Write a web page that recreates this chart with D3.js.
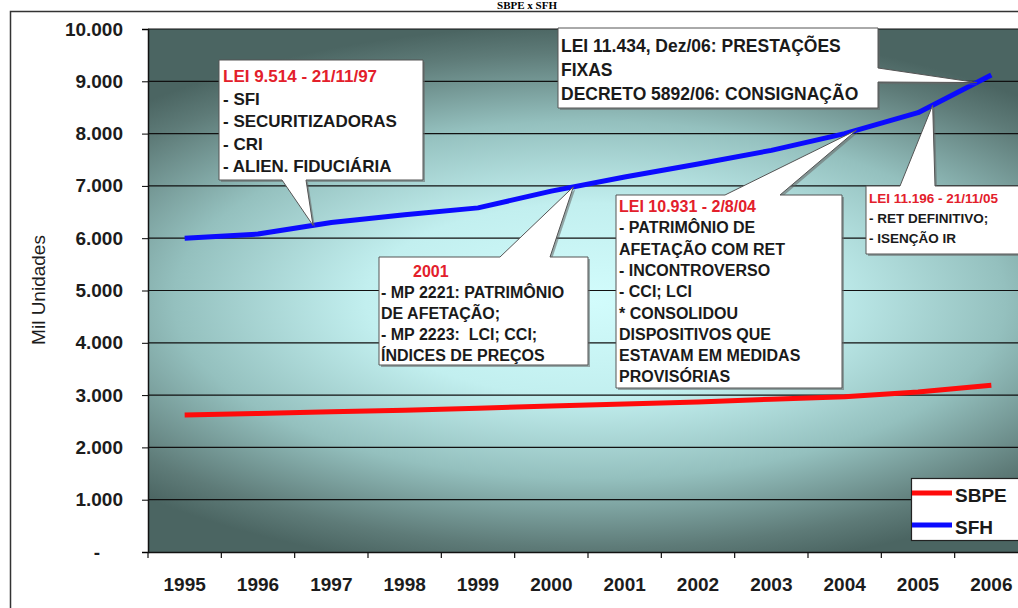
<!DOCTYPE html>
<meta charset="utf-8">
<style>
body { margin: 0; background: #fff; }
svg { display: block; font-family: Arial, "Liberation Sans", sans-serif; }
.tick text { font-weight: bold; fill: #1c1c1c; font-size: 19px; }
.note text { font-weight: bold; white-space: pre; }
</style>
<body>
<script src="https://d3js.org/d3.v7.min.js"></script>
<script>

// chart data
var years = ["1995", "1996", "1997", "1998", "1999", "2000", "2001", "2002", "2003", "2004", "2005", "2006"];
var sbpe = [2620, 2650, 2680, 2710, 2750, 2790, 2830, 2870, 2920, 2970, 3060, 3190];
var sfh = [6000, 6080, 6300, 6450, 6580, 6900, 7170, 7420, 7680, 8000, 8400, 9120];
var yTicks = [0, 1000, 2000, 3000, 4000, 5000, 6000, 7000, 8000, 9000, 10000];
var seriesNames = ["SBPE", "SFH"];
var seriesColors = ["#ff0b0b", "#0b0bff"];

// callouts, "at" = position along the year axis (index, may be fractional) on the SFH line
var notes = [
  { box: [219, 60, 204, 120], side: "bottom", base: [282, 306], at: 1.75, fs: 17, lh: 22.5, tx: 223, ty: 82,
    lines: [["LEI 9.514 - 21/11/97", "red"], ["- SFI"], ["- SECURITIZADORAS"], ["- CRI"], ["- ALIEN. FIDUCIÁRIA"]] },
  { box: [379, 257, 209, 108], side: "top", base: [500, 550], at: 5.3, fs: 16, lh: 21, tx: 381, ty: 277,
    lines: [["2001", "red", 32], ["- MP 2221: PATRIMÔNIO"], ["DE AFETAÇÃO;"], ["- MP 2223:  LCI; CCI;"], ["ÍNDICES DE PREÇOS"]] },
  { box: [558, 28, 320, 80], side: "right", base: [68, 82], at: 10.8, fs: 17.5, lh: 24, tx: 561, ty: 52,
    lines: [["LEI 11.434, Dez/06: PRESTAÇÕES"], ["FIXAS"], ["DECRETO 5892/06: CONSIGNAÇÃO"]] },
  { box: [616, 195, 226, 193], side: "top", base: [725, 780], at: 9.16, fs: 16, lh: 21.3, tx: 619, ty: 212,
    lines: [["LEI 10.931 - 2/8/04", "red"], ["- PATRIMÔNIO DE"], ["AFETAÇÃO COM RET"], ["- INCONTROVERSO"], ["- CCI; LCI"],
            ["* CONSOLIDOU"], ["DISPOSITIVOS QUE"], ["ESTAVAM EM MEDIDAS"], ["PROVISÓRIAS"]] },
  { box: [866, 186, 170, 68], side: "top", base: [900, 935], at: 10.2, fs: 13.5, lh: 20, tx: 869, ty: 203,
    lines: [["LEI 11.196 - 21/11/05", "red"], ["- RET DEFINITIVO;"], ["- ISENÇÃO IR"]] }
];

var width = 1018, height = 608;
var plot = {left: 148, top: 29, right: 1028, bottom: 552};

var svg = d3.select("body").append("svg")
    .attr("width", width)
    .attr("height", height);

var defs = svg.append("defs");
var rg = defs.append("radialGradient")
    .attr("id", "bg")
    .attr("gradientUnits", "userSpaceOnUse")
    .attr("cx", 0).attr("cy", 0).attr("r", 1)
    .attr("gradientTransform", "translate(590,300) scale(640,275)");
[[0, "#d2fcfc"], [0.35, "#c2efef"], [0.65, "#94c0be"], [0.9, "#5e7b78"], [1, "#4b6562"]].forEach(function(s) {
  rg.append("stop").attr("offset", s[0]).attr("stop-color", s[1]);
});

// scales
var x = d3.scaleBand().domain(years).range([plot.left, plot.right]).padding(0);
var y = d3.scaleLinear().domain([0, 10000]).range([plot.bottom, plot.top]);

function xAt(f) { return plot.left + (f + 0.5) * x.step(); }
function vAt(s, f) {
  var i = Math.min(Math.floor(f), s.length - 2);
  return d3.interpolateNumber(s[i], s[i + 1])(f - i);
}

// title above the frame, and outer frame
svg.append("text")
    .attr("x", 527).attr("y", 9)
    .attr("text-anchor", "middle")
    .style("font-family", "'Liberation Serif', 'Times New Roman', serif")
    .style("font-weight", "bold")
    .style("font-size", "11px")
    .text("SBPE x SFH");

svg.append("rect")
    .attr("x", 10.5).attr("y", 11.5)
    .attr("width", 1100).attr("height", 700)
    .attr("fill", "#fff")
    .attr("stroke", "#333").attr("stroke-width", 1.5);

// plot background
svg.append("rect")
    .attr("x", plot.left).attr("y", plot.top)
    .attr("width", plot.right - plot.left).attr("height", plot.bottom - plot.top)
    .attr("fill", "url(#bg)");

// gridlines
svg.append("g").selectAll("line")
    .data(yTicks.filter(function(d) { return d > 0; }))
  .enter().append("line")
    .attr("x1", plot.left).attr("x2", plot.right)
    .attr("y1", function(d) { return y(d); })
    .attr("y2", function(d) { return y(d); })
    .attr("stroke", "#111").attr("stroke-width", 1.2);

// y axis
var fmt = d3.formatLocale({decimal: ",", thousands: ".", grouping: [3], currency: ["", ""]}).format(",");
var yAxis = svg.append("g")
    .attr("transform", "translate(" + plot.left + ",0)")
    .call(d3.axisLeft(y).tickValues(yTicks).tickSize(6).tickPadding(19)
      .tickFormat(function(d) { return d === 0 ? "-" : fmt(d); }));
yAxis.selectAll("text").filter(function(d) { return d === 0; }).attr("dx", -23);
yAxis.select(".domain").attr("stroke", "#111").attr("stroke-width", 1.5);

// x axis, labels centred, ticks between categories
var xAxis = svg.append("g")
    .attr("transform", "translate(0," + plot.bottom + ")")
    .call(d3.axisBottom(x).tickSize(0).tickPadding(26));
xAxis.select(".domain").attr("stroke", "#111").attr("stroke-width", 1.5);
xAxis.selectAll(".bound")
    .data(years)
  .enter().append("line")
    .attr("class", "bound")
    .attr("x1", function(d) { return x(d); })
    .attr("x2", function(d) { return x(d); })
    .attr("y1", 0).attr("y2", 6)
    .attr("stroke", "#111").attr("stroke-width", 1.2);

// y axis title
svg.append("text")
    .attr("transform", "translate(45,290) rotate(-90)")
    .attr("text-anchor", "middle")
    .style("font-size", "19px")
    .attr("fill", "#1c1c1c")
    .text("Mil Unidades");

// lines
var line = d3.line()
    .x(function(d, i) { return x(years[i]) + x.bandwidth() / 2; })
    .y(function(d) { return y(d); });

[sbpe, sfh].forEach(function(s, k) {
  svg.append("path")
      .datum(s)
      .attr("d", line)
      .attr("fill", "none")
      .attr("stroke", seriesColors[k])
      .attr("stroke-width", 5)
      .attr("stroke-linejoin", "round");
});

// callouts
function calloutPath(b, side, base, tip) {
  var x0 = b[0], y0 = b[1], x1 = b[0] + b[2], y1 = b[1] + b[3];
  if (side === "bottom")
    return "M" + x0 + "," + y0 + "H" + x1 + "V" + y1 + "H" + base[1] + "L" + tip + "L" + base[0] + "," + y1 + "H" + x0 + "Z";
  if (side === "top")
    return "M" + x0 + "," + y0 + "H" + base[0] + "L" + tip + "L" + base[1] + "," + y0 + "H" + x1 + "V" + y1 + "H" + x0 + "Z";
  return "M" + x0 + "," + y0 + "H" + x1 + "V" + base[0] + "L" + tip + "L" + x1 + "," + base[1] + "V" + y1 + "H" + x0 + "Z";
}

notes.forEach(function(n) {
  var tip = [xAt(n.at), y(vAt(sfh, n.at))];
  var g = svg.append("g").attr("class", "note");
  var p = calloutPath(n.box, n.side, n.base, tip);
  g.append("path").attr("d", p).attr("transform", "translate(2,2)")
      .attr("fill", "#666").attr("opacity", 0.55);
  g.append("path").attr("d", p)
      .attr("fill", "#fff").attr("stroke", "#555").attr("stroke-width", 1);
  n.lines.forEach(function(l, i) {
    g.append("text")
        .attr("x", n.tx + (l[2] || 0))
        .attr("y", n.ty + i * n.lh)
        .style("font-size", n.fs + "px")
        .attr("fill", l[1] === "red" ? "#e3202b" : "#1a1a1a")
        .text(l[0]);
  });
});

// legend
var leg = svg.append("g");
leg.append("rect")
    .attr("x", 911.5).attr("y", 478.5)
    .attr("width", 110).attr("height", 62)
    .attr("fill", "#fff").attr("stroke", "#222").attr("stroke-width", 1.2);
seriesNames.forEach(function(name, k) {
  var ly = 493 + k * 32;
  leg.append("line")
      .attr("x1", 912).attr("x2", 952)
      .attr("y1", ly).attr("y2", ly)
      .attr("stroke", seriesColors[k]).attr("stroke-width", 5);
  leg.append("text")
      .attr("x", 955).attr("y", ly + 9)
      .style("font-size", "19px").style("font-weight", "bold")
      .attr("fill", "#1a1a1a")
      .text(name);
});

</script>
</body>
